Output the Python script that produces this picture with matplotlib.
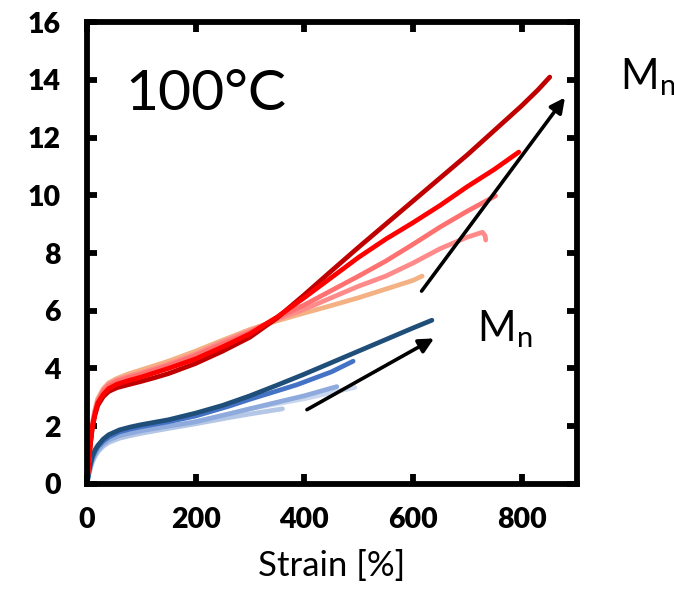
import matplotlib.pyplot as plt

# stress-strain curves at 100 °C
# red group (higher Mn series)
peach_x = [0, 3, 6, 10, 15, 20, 30, 40, 55, 75, 100, 125, 150, 200, 250, 300, 350, 400, 450, 500, 550, 600, 617]
peach_y = [0, 0.7, 1.4, 2.1, 2.6, 2.95, 3.3, 3.5, 3.65, 3.8, 3.95, 4.1, 4.25, 4.6, 4.98, 5.35, 5.65, 5.92, 6.18, 6.45, 6.75, 7.05, 7.2]

pink2_x = [0, 3, 6, 10, 15, 20, 30, 40, 55, 75, 100, 125, 150, 200, 250, 300, 350, 400, 450, 500, 550, 600, 650, 700, 728, 733, 734]
pink2_y = [0, 0.7, 1.4, 2.05, 2.55, 2.9, 3.25, 3.45, 3.6, 3.72, 3.85, 4.0, 4.15, 4.5, 4.92, 5.3, 5.7, 6.05, 6.45, 6.85, 7.2, 7.65, 8.15, 8.55, 8.72, 8.6, 8.45]

pink1_x = [0, 3, 6, 10, 15, 20, 30, 40, 55, 75, 100, 125, 150, 200, 250, 300, 350, 400, 450, 500, 550, 600, 650, 700, 752]
pink1_y = [0, 0.7, 1.4, 2.05, 2.5, 2.85, 3.2, 3.4, 3.55, 3.67, 3.8, 3.95, 4.1, 4.45, 4.85, 5.25, 5.75, 6.2, 6.7, 7.2, 7.72, 8.3, 8.9, 9.45, 9.98]

red_x = [0, 3, 6, 10, 15, 20, 30, 40, 55, 75, 100, 125, 150, 200, 250, 300, 350, 400, 450, 500, 550, 600, 650, 700, 750, 795]
red_y = [0, 0.7, 1.35, 2.0, 2.45, 2.8, 3.1, 3.3, 3.45, 3.57, 3.7, 3.85, 4.0, 4.33, 4.75, 5.2, 5.78, 6.45, 7.15, 7.85, 8.48, 9.05, 9.65, 10.3, 10.9, 11.5]

darkred_x = [0, 3, 6, 10, 15, 20, 30, 40, 55, 75, 100, 125, 150, 200, 250, 300, 350, 400, 450, 500, 550, 600, 650, 700, 750, 800, 830, 852]
darkred_y = [0, 0.7, 1.3, 1.95, 2.4, 2.72, 3.02, 3.2, 3.33, 3.43, 3.55, 3.68, 3.82, 4.17, 4.6, 5.08, 5.75, 6.55, 7.38, 8.2, 9.0, 9.8, 10.6, 11.4, 12.25, 13.1, 13.65, 14.1]

# blue group (lower Mn series)
faint_x = [0, 3, 6, 10, 15, 20, 30, 40, 60, 80, 100, 150, 200, 263, 300, 400, 493]
faint_y = [0, 0.3, 0.55, 0.8, 1.0, 1.15, 1.35, 1.48, 1.63, 1.72, 1.8, 1.97, 2.15, 2.43, 2.6, 2.95, 3.34]

lightest_x = [0, 3, 6, 10, 15, 20, 30, 40, 60, 80, 100, 150, 200, 263, 300, 360]
lightest_y = [0, 0.28, 0.5, 0.75, 0.95, 1.1, 1.3, 1.43, 1.58, 1.67, 1.75, 1.92, 2.08, 2.3, 2.42, 2.6]

lightblue_x = [0, 3, 6, 10, 15, 20, 30, 40, 60, 80, 100, 150, 200, 263, 300, 355, 400, 460]
lightblue_y = [0, 0.3, 0.55, 0.82, 1.02, 1.18, 1.38, 1.52, 1.67, 1.76, 1.84, 2.0, 2.15, 2.43, 2.6, 2.85, 3.05, 3.37]

blue_x = [0, 3, 6, 10, 15, 20, 30, 40, 60, 80, 100, 150, 200, 263, 300, 350, 386, 450, 490]
blue_y = [0, 0.35, 0.62, 0.9, 1.12, 1.28, 1.48, 1.62, 1.8, 1.9, 1.98, 2.15, 2.35, 2.7, 2.93, 3.22, 3.43, 3.88, 4.25]

navy_x = [0, 3, 6, 10, 15, 20, 30, 40, 60, 80, 100, 150, 200, 250, 300, 350, 400, 450, 500, 550, 600, 635]
navy_y = [0, 0.38, 0.68, 0.97, 1.18, 1.33, 1.55, 1.7, 1.87, 1.97, 2.05, 2.22, 2.45, 2.72, 3.05, 3.42, 3.8, 4.2, 4.6, 5.0, 5.4, 5.67]

blue_curves = [
    (faint_x, faint_y, "#c9d7ef"),
    (lightest_x, lightest_y, "#b4c7e7"),
    (lightblue_x, lightblue_y, "#8faadc"),
    (blue_x, blue_y, "#4472c4"),
    (navy_x, navy_y, "#1f4e79"),
]
red_curves = [
    (peach_x, peach_y, "#f4b183"),
    (pink2_x, pink2_y, "#ff8a8a"),
    (pink1_x, pink1_y, "#ff7070"),
    (darkred_x, darkred_y, "#c00000"),
    (red_x, red_y, "#ff0000"),
]

x_ticks = [0, 200, 400, 600, 800]
y_ticks = [0, 2, 4, 6, 8, 10, 12, 14, 16]

fig = plt.figure(figsize=(6.74, 6.01), dpi=100)
ax = fig.add_axes([0.129, 0.195, 0.727, 0.768])

for xs, ys, c in blue_curves + red_curves:
    ax.plot(xs, ys, color=c, lw=3.4, solid_capstyle="round", solid_joinstyle="round")

ax.set_xlim(0, 902)
ax.set_ylim(0, 16)
ax.set_xticks(x_ticks)
ax.set_yticks(y_ticks)

for s in ax.spines.values():
    s.set_linewidth(4.2)
ax.tick_params(direction="in", length=7, width=4.2, top=True, right=True,
               labelsize=20.5, pad=17)
ax.tick_params(axis="y", pad=19)
for lab in ax.get_xticklabels() + ax.get_yticklabels():
    lab.set_fontfamily("Lato")
    lab.set_fontweight("heavy")

ax.set_xlabel("Strain [%]", fontfamily="Lato", fontsize=25, labelpad=12)

ax.text(70, 12.95, "100°C", fontfamily="Lato", fontsize=41)

arrow = dict(arrowstyle="-|>", color="black", lw=2.6, mutation_scale=22,
             shrinkA=0, shrinkB=0)
ax.annotate("", xy=(880, 13.39), xytext=(616, 6.68), arrowprops=arrow,
            annotation_clip=False)
ax.annotate("", xy=(639, 5.04), xytext=(405, 2.57), arrowprops=arrow)

ax.text(981, 13.67, r"M$_\mathregular{n}$", fontfamily="Lato", fontsize=30,
        clip_on=False)
ax.text(718, 4.94, r"M$_\mathregular{n}$", fontfamily="Lato", fontsize=30)

fig.savefig("out.png", dpi=100)
